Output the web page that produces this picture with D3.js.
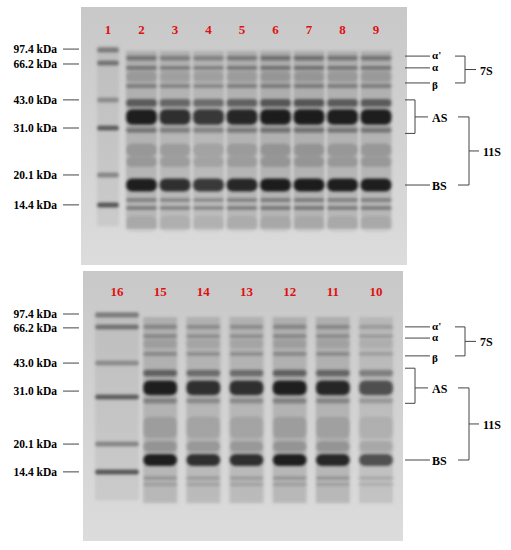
<!DOCTYPE html>
<html><head><meta charset="utf-8">
<script src="https://cdn.jsdelivr.net/npm/d3@7"></script>
<style>body{margin:0;background:#fff}text{font-family:"Liberation Serif",serif;font-weight:bold}</style>
</head><body><div id="gel"></div>
<script>
// lane labels, left to right
const topLanes = ["1","2","3","4","5","6","7","8","9"];
const bottomLanes = ["16","15","14","13","12","11","10"];
// lane loading (relative darkness of each sample lane)
const topLoad = [0, 0.9, 0.8, 0.75, 0.85, 0.95, 0.95, 0.9, 0.9];
const bottomLoad = [0, 0.9, 0.8, 0.8, 0.9, 0.85, 0.6];
// marker sizes and relative migration (Rf)
const markerKDa = ["97.4 kDa","66.2 kDa","43.0 kDa","31.0 kDa","20.1 kDa","14.4 kDa"];
const topMarkerRf = [0.167, 0.217, 0.36, 0.469, 0.651, 0.767];
const bottomMarkerRf = [0.163, 0.207, 0.341, 0.467, 0.641, 0.744];
const markerDark = [0.45, 0.5, 0.35, 0.65, 0.4, 0.7];
// sample bands: name, Rf, width (Rf), darkness
const topBands = [
  ["a'",0.198,0.018,0.55],["a",0.236,0.014,0.6],["",0.27,0.04,0.2],["b",0.306,0.016,0.5],
  ["",0.372,0.03,0.8],["AS",0.426,0.06,1],["",0.477,0.02,0.55],["",0.554,0.05,0.25],["",0.6,0.04,0.25],
  ["BS",0.69,0.05,1],["",0.748,0.014,0.55],["",0.779,0.014,0.6],["",0.84,0.06,0.12]];
const bottomBands = [
  ["a'",0.207,0.016,0.4],["a",0.241,0.012,0.45],["",0.27,0.03,0.15],["b",0.307,0.014,0.4],
  ["",0.378,0.025,0.75],["AS",0.433,0.055,1],["",0.481,0.02,0.45],["",0.58,0.08,0.2],["",0.65,0.04,0.3],
  ["BS",0.7,0.045,1],["",0.767,0.014,0.3],["",0.79,0.012,0.25]];

const svg = d3.select("#gel").append("svg").attr("width",511).attr("height",550);
const defs = svg.append("defs");
defs.append("filter").attr("id","blur").attr("x","-20%").attr("y","-50%").attr("width","140%").attr("height","200%")
  .append("feGaussianBlur").attr("stdDeviation",1.8);
const grad = defs.append("linearGradient").attr("id","bg").attr("x1",0).attr("y1",0).attr("x2",0).attr("y2",1);
grad.append("stop").attr("offset","0%").attr("stop-color","#c8c8c8");
grad.append("stop").attr("offset","100%").attr("stop-color","#dcdcdc");

function drawGel(g){
  const y = d3.scaleLinear().domain([0,1]).range([g.top, g.bottom]);
  const x = d3.scalePoint().domain(g.lanes).range(g.laneRange);
  svg.append("rect").attr("x",g.left).attr("y",g.top).attr("width",g.right-g.left)
    .attr("height",g.bottom-g.top).attr("fill","url(#bg)");
  const b = svg.append("g").attr("filter","url(#blur)");
  const lw = g.laneW;
  // sample lanes: smear + bands
  g.lanes.slice(1).forEach((l,i) => {
    const k = g.load[i+1];
    b.append("rect").attr("x",x(l)-lw/2).attr("y",y(0.17)).attr("width",lw).attr("height",y(0.86)-y(0.17))
      .attr("fill","#555").attr("opacity",0.28*k);
    g.bands.forEach(d => {
      const h = y(d[1]+d[2]/2)-y(d[1]-d[2]/2);
      b.append("rect").attr("x",x(l)-lw/2).attr("y",y(d[1])-h/2).attr("width",lw).attr("height",h)
        .attr("rx",Math.min(h/2,6)).attr("fill","#1a1a1a").attr("opacity",Math.min(1,d[3]*k*(d[3]>0.9?1.1:0.8)));
    });
  });
  // marker lane
  const m = g.lanes[0];
  b.append("rect").attr("x",x(m)-g.markW/2).attr("y",y(0.15)).attr("width",g.markW).attr("height",y(0.85)-y(0.15))
    .attr("fill","#777").attr("opacity",0.15);
  g.markerRf.forEach((r,i) => {
    b.append("rect").attr("x",x(m)-g.markW/2).attr("y",y(r)-2.5).attr("width",g.markW).attr("height",5)
      .attr("rx",2.5).attr("fill","#222").attr("opacity",markerDark[i]);
  });
  svg.append("g").selectAll("text").data(g.lanes).join("text")
    .attr("x",d=>x(d)).attr("y",g.numY).attr("text-anchor","middle").attr("font-size",13)
    .attr("fill","#e01010").text(d=>d);
  // marker labels
  const ml = svg.append("g");
  markerKDa.forEach((t,i) => {
    const yy = y(g.markerRf[i]) + (g.labelShift[i]||0);
    ml.append("text").attr("x",57).attr("y",yy+4).attr("text-anchor","end").attr("font-size",11.5).text(t);
    ml.append("line").attr("x1",63).attr("x2",79).attr("y1",yy).attr("y2",yy).attr("stroke","#444");
  });
  // right annotations
  const a = svg.append("g").attr("stroke","#444").attr("fill","none");
  const bandY = n => y(g.bands.find(d=>d[0]===n)[1]);
  const greek = {"a'":"α'","a":"α","b":"β"};
  ["a'","a","b"].forEach((n,i) => {
    const yy = bandY(n) + g.greekShift[i];
    a.append("line").attr("x1",405).attr("x2",430).attr("y1",yy).attr("y2",yy);
    svg.append("text").attr("x",432).attr("y",yy+3+(n==="b"?3:0)).attr("font-size",11).text(greek[n]);
  });
  const s7a = bandY("a'") + g.greekShift[0], s7b = bandY("b") + g.greekShift[2];
  a.append("path").attr("d",`M455,${s7a}H465V${s7b}H455M465,${(s7a+s7b)/2}H476`);
  svg.append("text").attr("x",480).attr("y",(s7a+s7b)/2+5).attr("font-size",12).text("7S");
  const asA = y(0.36), asB = y(0.49), asM = bandY("AS");
  a.append("path").attr("d",`M405,${asA}H415V${asB}H405M415,${asM}H428`);
  svg.append("text").attr("x",432).attr("y",asM+5).attr("font-size",12).text("AS");
  const bs = bandY("BS");
  a.append("line").attr("x1",405).attr("x2",430).attr("y1",bs).attr("y2",bs);
  svg.append("text").attr("x",432).attr("y",bs+5).attr("font-size",12).text("BS");
  a.append("path").attr("d",`M458,${asM}H469V${bs}H458M469,${(asM+bs)/2}H479`);
  svg.append("text").attr("x",483).attr("y",(asM+bs)/2+5).attr("font-size",12).text("11S");
}

drawGel({top:7,bottom:265,left:81,right:407,lanes:topLanes,load:topLoad,laneRange:[108,376],
  laneW:31,markW:22,numY:34,bands:topBands,markerRf:topMarkerRf,labelShift:[-1,1,0,0,0,0],
  greekShift:[-2,0,-3]});
drawGel({top:271,bottom:541,left:83,right:403,lanes:bottomLanes,load:bottomLoad,laneRange:[117,376],
  laneW:34,markW:44,numY:296,bands:bottomBands,markerRf:bottomMarkerRf,labelShift:[-1,1,0,-6,0,0],
  greekShift:[0,2,2]});
</script></body></html>
